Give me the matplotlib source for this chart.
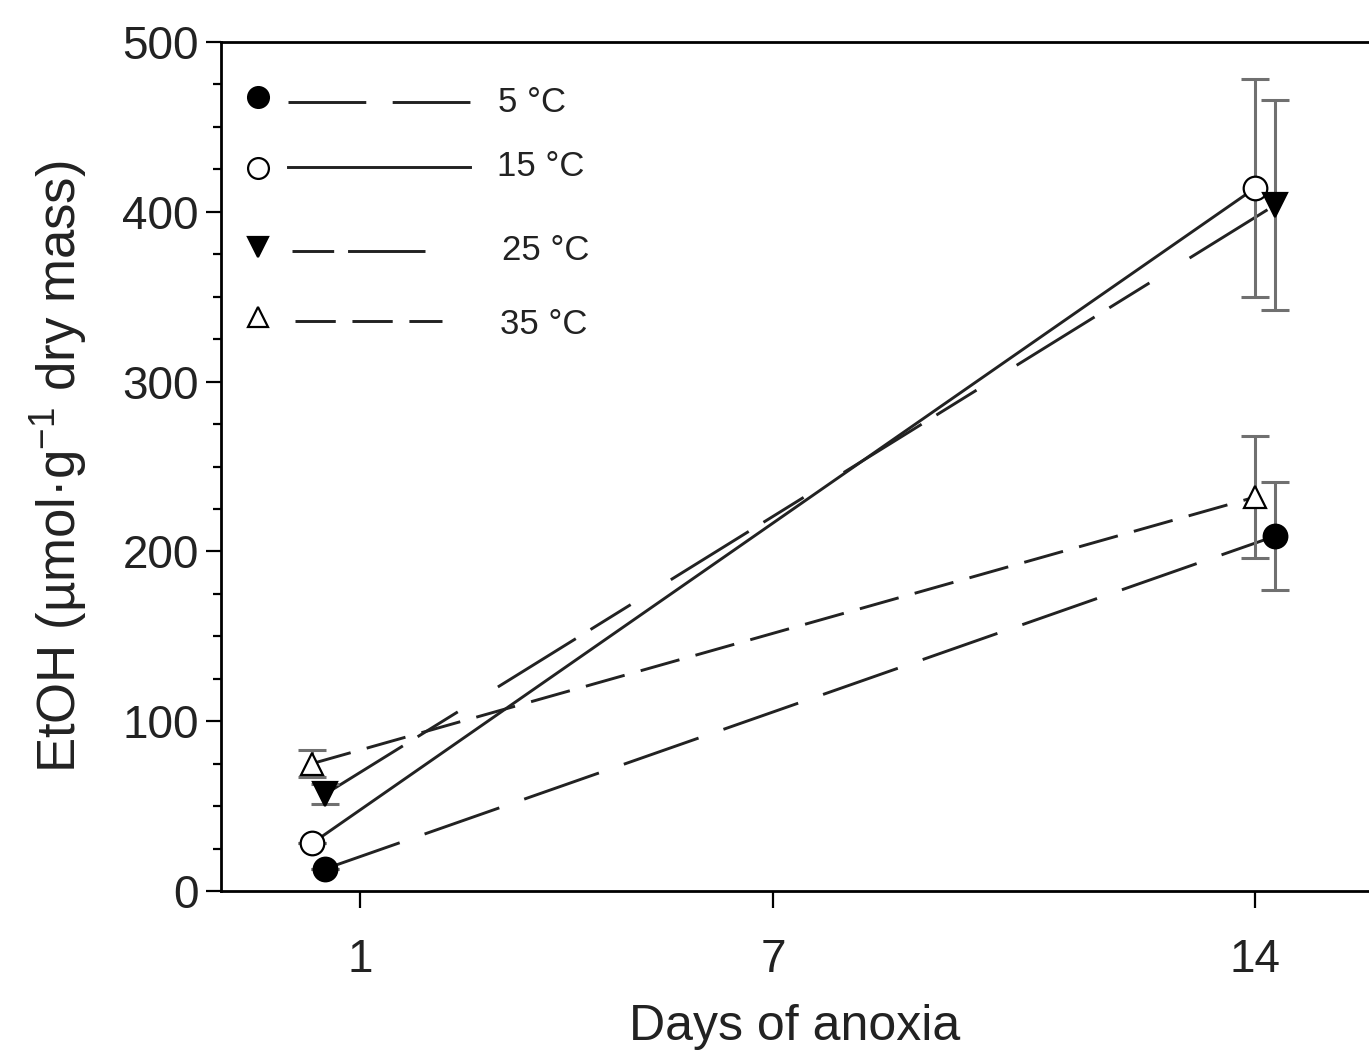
import numpy as np
import matplotlib
matplotlib.use("Agg")
import matplotlib.pyplot as plt
from matplotlib.ticker import MultipleLocator

plt.rcParams['font.family'] = ['Liberation Sans', 'DejaVu Sans']
plt.rcParams['mathtext.fontset'] = 'custom'
plt.rcParams['mathtext.rm'] = 'Liberation Sans'
plt.rcParams['mathtext.it'] = 'Liberation Sans'
plt.rcParams['lines.scale_dashes'] = False

# Daten
days_open = [0.30, 14.0]     # 15 °C und 35 °C
days_filled = [0.49, 14.29]  # 5 °C und 25 °C

etoh_5 = [13, 209]
err_5 = [0, 32]
etoh_15 = [28, 414]
err_15 = [0, 64]
etoh_25 = [57, 404]
err_25 = [6, 62]
etoh_35 = [75, 232]
err_35 = [8, 36]

labels = ['5 °C', '15 °C', '25 °C', '35 °C']
xticks = [1, 7, 14]

# Linienstile
ls_5 = (0, (57, 19))
ls_15 = '-'
ls_25 = (0, (66, 12.5, 34, 34))
ls_35 = (0, (29, 12))

fig = plt.figure(figsize=(13.69, 10.52), dpi=100)
ax = fig.add_axes([221/1369, 1 - 891/1052, 1 - 221/1369, (891 - 42)/1052])

lw = 2.1
ebc = '#707070'

series = [
    (days_filled, etoh_5, err_5, ls_5, 'o', 'black', 17),
    (days_open, etoh_15, err_15, ls_15, 'o', 'white', 17),
    (days_filled, etoh_25, err_25, ls_25, 'v', 'black', 17),
    (days_open, etoh_35, err_35, ls_35, '^', 'white', 16),
]

for x, y, e, ls, m, fc, ms in series:
    ax.plot(x, y, color='#222222', lw=lw, linestyle=ls, zorder=2)
    ax.errorbar(x, y, yerr=e, fmt='none', ecolor=ebc, elinewidth=2.2,
                capsize=10, capthick=2.2, zorder=3)
    ax.plot(x, y, linestyle='none', marker=m, ms=ms, mfc=fc, mec='black',
            mew=1.6, zorder=4)

ax.set_xlim(-1.02, -1.02 + 1148/68.85)
ax.set_ylim(0, 500)
ax.set_xticks(xticks)
ax.yaxis.set_major_locator(MultipleLocator(100))
ax.yaxis.set_minor_locator(MultipleLocator(25))

ax.spines['right'].set_visible(False)
for s in ['left', 'bottom', 'top']:
    ax.spines[s].set_linewidth(2.0)

ax.tick_params(axis='y', which='major', direction='out', length=11, width=1.6,
               labelsize=33, pad=5, labelcolor='#222222')
ax.tick_params(axis='y', which='minor', direction='out', length=6, width=1.6)
ax.tick_params(axis='x', which='major', direction='out', length=12, width=1.6,
               labelsize=33, pad=22, labelcolor='#222222')

ax.set_xlabel('Days of anoxia', fontsize=36, labelpad=16, color='#222222')
ax.set_ylabel(r'EtOH (µmol·g$^{-1}$ dry mass)', fontsize=38, labelpad=24,
              color='#222222')

# Legende (manuell gezeichnet)
def ax_xy(px, py):
    return (px - 221) / 1148, (891 - py) / 849

leg = [
    (97, 102, 288, 471, 498, 102, 'o', 'black', (0, (56, 19))),
    (168, 167, 288, 470, 497, 167, 'o', 'white', ls_15),
    (247, 251, 292, 425, 502, 250, 'v', 'black', (0, (30, 10, 57, 30))),
    (317, 321, 295, 442, 500, 325, '^', 'white', ls_35),
]
for (my, ly, lx0, lx1, tx, ty, m, fc, ls), lab in zip(leg, labels):
    mx, myy = ax_xy(258, my)
    ax.plot([mx], [myy], transform=ax.transAxes, marker=m, ms=15 if m != '^' else 14,
            mfc=fc, mec='black', mew=1.6, linestyle='none', clip_on=False)
    x0, yy = ax_xy(lx0, ly)
    x1, _ = ax_xy(lx1, ly)
    ax.plot([x0, x1], [yy, yy], transform=ax.transAxes, color='#222222', lw=lw,
            linestyle=ls, clip_on=False)
    tx_, ty_ = ax_xy(tx, ty)
    ax.text(tx_, ty_, lab, transform=ax.transAxes, fontsize=25, va='center',
            ha='left', color='#222222')

fig.savefig('out.png', dpi=100)
